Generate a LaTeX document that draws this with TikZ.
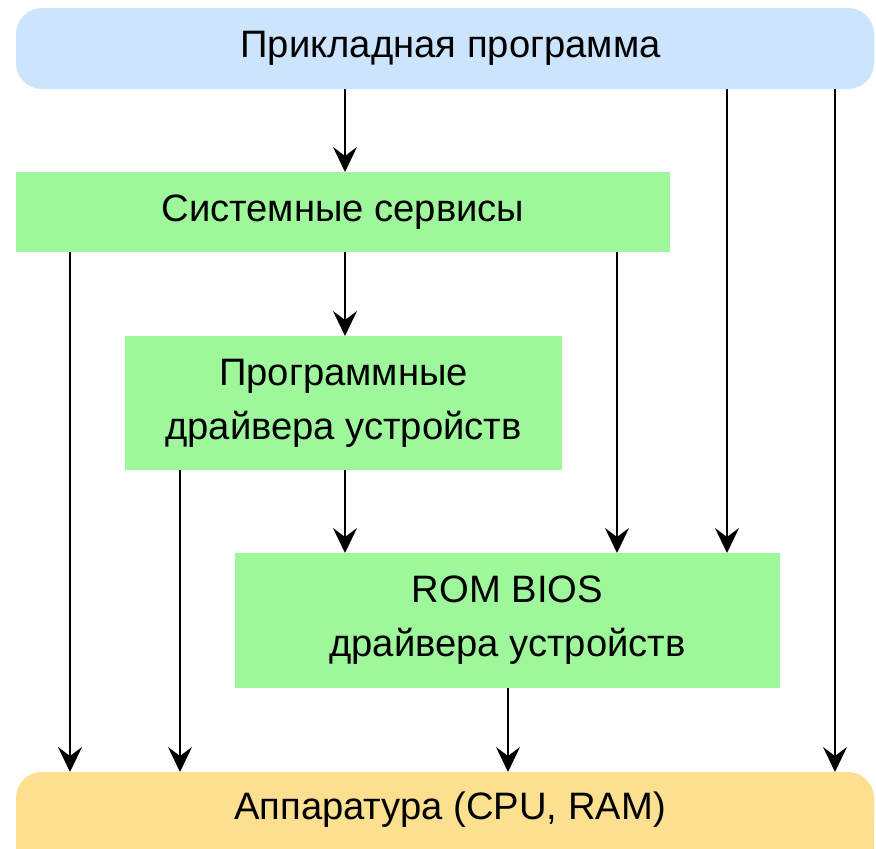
\documentclass[tikz,border=0pt]{standalone}
\usepackage{fontspec}
\setmainfont{Liberation Sans}
\usetikzlibrary{arrows.meta}
\definecolor{appblue}{HTML}{CCE4FC}
\definecolor{drvgreen}{HTML}{9EF79B}
\definecolor{hworange}{HTML}{FCE08F}
\tikzset{
  box/.style={anchor=north west, inner sep=0pt, outer sep=0pt, align=center,
    font=\fontsize{38.2}{54}\selectfont, text=black},
  arr/.style={line width=2.2pt, -{Stealth[length=25pt,width=24pt,inset=9pt]}}
}
\begin{document}
\begin{tikzpicture}[x=1pt,y=-1pt]
\useasboundingbox (0,0) rectangle (876,849);
\clip (0,0) rectangle (876,849);
% boxes
\node[box, fill=appblue, rounded corners=26pt, minimum width=858pt, minimum height=81pt] (app) at (16,8) {\hspace*{11pt}Прикладная программа};
\node[box, fill=drvgreen, minimum width=654pt, minimum height=80pt] (sys) at (16,172) {Системные сервисы};
\node[box, fill=drvgreen, minimum width=437pt, minimum height=134pt] (prog) at (125,336) {Программные\\драйвера устройств};
\node[box, fill=drvgreen, minimum width=545pt, minimum height=135pt] (rom) at (235,553) {ROM BIOS\\драйвера устройств};
\fill[hworange] (16,810) rectangle (874,860);
\node[box, fill=hworange, rounded corners=26pt, minimum width=858pt, minimum height=76pt] (hw) at (16,772) {\hspace*{10pt}Аппаратура (CPU, RAM)};
% column coordinates
\coordinate (x70) at (70,0);
\coordinate (x180) at (180,0);
\coordinate (x345) at (345,0);
\coordinate (x508) at (508,0);
\coordinate (x617) at (617,0);
\coordinate (x727) at (727,0);
\coordinate (x835) at (835,0);
% arrows
\draw[arr] (app.south -| x345) -- (sys.north -| x345);
\draw[arr] (app.south -| x727) -- (rom.north -| x727);
\draw[arr] (app.south -| x835) -- (hw.north -| x835);
\draw[arr] (sys.south -| x70) -- (hw.north -| x70);
\draw[arr] (sys.south -| x345) -- (prog.north -| x345);
\draw[arr] (sys.south -| x617) -- (rom.north -| x617);
\draw[arr] (prog.south -| x180) -- (hw.north -| x180);
\draw[arr] (prog.south -| x345) -- (rom.north -| x345);
\draw[arr] (rom.south -| x508) -- (hw.north -| x508);
\end{tikzpicture}
\end{document}
